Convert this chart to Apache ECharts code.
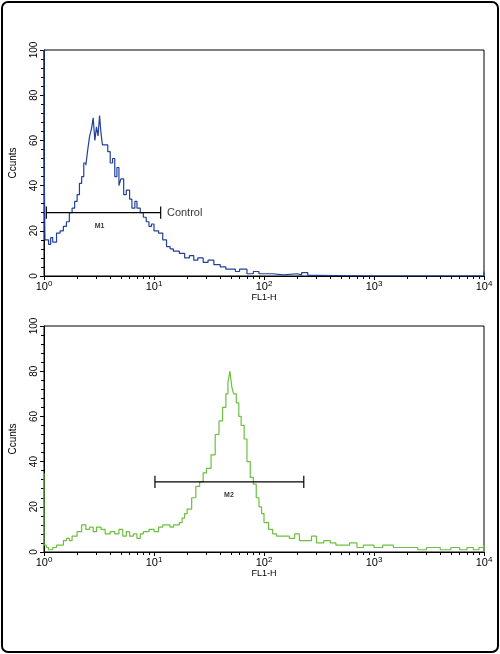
<!DOCTYPE html>
<html><head><meta charset="utf-8">
<script src="https://cdn.jsdelivr.net/npm/echarts@6/dist/echarts.min.js"></script>
<style>html,body{margin:0;padding:0;background:#fff}#c{width:500px;height:654px}</style>
</head><body><div id="c"></div>
<script>
const topX=[1,1,1.02,1.1,1.15,1.2,1.3,1.4,1.5,1.6,1.7,1.8,1.9,2.0,2.1,2.2,2.3,2.4,2.5,2.6,2.7,2.8,2.9,3.0,3.1,3.2,3.3,3.4,3.6,3.8,4.0,4.2,4.4,4.6,4.8,5.0,5.3,5.6,6.0,6.3,6.7,7.0,7.5,8.0,8.5,9.0,9.5,10,11,12,13,14,15,17,19,21,23,25,28,31,35,40,45,50,55,60,70,80,90,100,120,150,200,220,250,300,1000,10000,10000];
const topY=[100,57,16,14,17,15,19,20,22,24,28,30,33,36,41,44,50,49,56,62,65,70,60,66,62,71,63,58,58,55,50,52,44,48,40,43,36,38,34,30,33,30,28,26,24,22,23,20,19,16,13,12,11,10,8,9,7,8,6,7,5,4,3,3,2,3,1,2,1,1,0.5,1,0.5,1.5,0.3,0,0,0,2];
const botX=[1,1,1.05,1.1,1.2,1.3,1.4,1.5,1.6,1.7,1.8,2.0,2.2,2.4,2.6,2.8,3.0,3.3,3.6,4,4.4,4.8,5.2,5.6,6,6.5,7,7.5,8,9,10,11,12,13,14,15,16,17,18,19,20,22,24,26,28,30,33,36,39,42,45,47,49,51,53,56,59,62,66,70,75,80,85,90,95,100,110,120,130,150,170,190,210,240,270,300,350,400,450,500,600,700,800,1000,1200,1500,2000,2500,3000,4000,5000,6000,7000,8000,9000,10000,10000];
const botY=[35,3,2,1,2,3,3,5,6,5,7,9,12,10,11,9,11,10,8,9,8,10,7,9,7,8,6,8,9,10,9,11,12,12,11,12,12,13,15,17,19,24,29,31,35,37,43,52,58,64,70,75,80,73,70,66,60,56,50,40,33,30,24,20,17,13,10,8,7,7,6,8,5,5,7,4,5,4,3,3,4,2,3,2,3,2,2,1,2,1,2,1,2,1,2,0,3];
const m1=[1.05,11.5,28]; // from, to, level
const m2=[10.2,230,31];
const yTicks=[0,20,40,60,80,100];

function pairs(xs,ys){return xs.map((x,i)=>[x,ys[i]]);}
function marker(m){const c=2.7;return [[m[0],m[2]-c],[m[0],m[2]+c],'-',[m[0],m[2]],[m[1],m[2]],'-',[m[1],m[2]-c],[m[1],m[2]+c]];}
function xAxis(i){return {type:'log',gridIndex:i,min:1,max:10000,logBase:10,
 axisLine:{onZero:false,lineStyle:{color:'#000'}},axisTick:{length:4,lineStyle:{color:'#000'}},
 minorTick:{show:true,splitNumber:9,length:3,lineStyle:{color:'#000'}},splitLine:{show:false},
 name:'FL1-H',nameLocation:'middle',nameGap:14,nameTextStyle:{fontFamily:'Liberation Sans',fontSize:9,color:'#000'},
 axisLabel:{margin:4,formatter:v=>'{b|10}{s|'+Math.round(Math.log10(v))+'}',
  rich:{b:{fontFamily:'Liberation Sans',fontSize:11,color:'#000'},s:{fontFamily:'Liberation Sans',fontSize:8,color:'#000',verticalAlign:'top',padding:[0,0,6,0]}}}};}
function yAxis(i){return {type:'value',gridIndex:i,min:0,max:100,interval:20,
 axisLine:{show:true,lineStyle:{color:'#000'}},axisTick:{show:true,length:4,lineStyle:{color:'#000'}},
 minorTick:{show:true,splitNumber:5,length:3,lineStyle:{color:'#000'}},splitLine:{show:false},
 name:'Ccunts',nameLocation:'middle',nameGap:26,nameRotate:90,nameTextStyle:{fontFamily:'Liberation Sans',fontSize:10,color:'#000'},
 axisLabel:{rotate:90,margin:5,fontFamily:'Liberation Sans',fontSize:10,color:'#000',formatter:v=>yTicks.includes(v)?String(v):''}};}
const hist=(xi,data,color)=>({type:'line',xAxisIndex:xi,yAxisIndex:xi,data,step:'end',symbol:'none',lineStyle:{color,width:1.2},silent:true,z:3});
const mk=(xi,m)=>({type:'line',xAxisIndex:xi,yAxisIndex:xi,data:marker(m),symbol:'none',lineStyle:{color:'#000',width:1.2},z:4});
const lbl=(xi,x,y,t,fs)=>({type:'scatter',xAxisIndex:xi,yAxisIndex:xi,data:[[x,y]],symbolSize:0,
 label:{show:true,formatter:t,position:'inside',fontFamily:'Liberation Sans',fontSize:fs,fontWeight:fs<9?'bold':'normal',color:'#000'}});
const chart=echarts.init(document.getElementById('c'));
chart.setOption({animation:false,
 graphic:[{type:'rect',shape:{x:2,y:2,width:496,height:650,r:6},style:{fill:'none',stroke:'#000',lineWidth:2}}],
 grid:[{left:42,top:50,width:442,height:226,show:true,borderColor:'#000',borderWidth:1},
       {left:42,top:326,width:442,height:226,show:true,borderColor:'#000',borderWidth:1}],
 xAxis:[xAxis(0),xAxis(1)],yAxis:[yAxis(0),yAxis(1)],
 series:[hist(0,pairs(topX,topY),'#23409c'),hist(1,pairs(botX,botY),'#6cbf3f'),
  mk(0,m1),mk(1,m2),
  lbl(0,3.2,22,'M1',7),lbl(0,19,28,'Control',11),lbl(1,48,25,'M2',7)]});
</script></body></html>
